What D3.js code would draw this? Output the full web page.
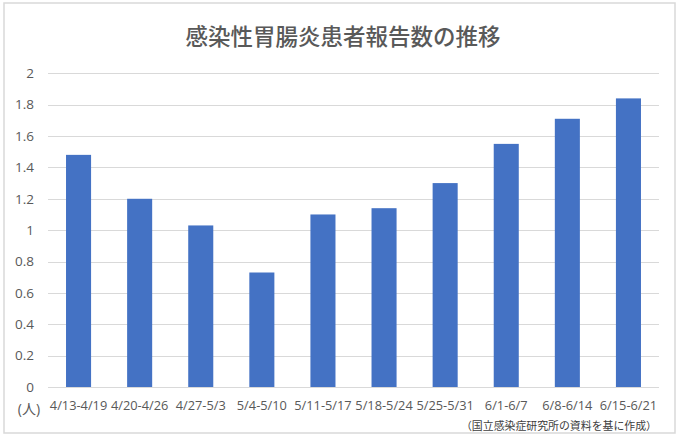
<!DOCTYPE html>
<html><head><meta charset="utf-8">
<script src="https://cdn.jsdelivr.net/npm/d3@7"></script>
<style>html,body{margin:0;padding:0;background:#fff;}svg{display:block;}</style>
</head><body>
<script>
const categories = ["4/13-4/19","4/20-4/26","4/27-5/3","5/4-5/10","5/11-5/17","5/18-5/24","5/25-5/31","6/1-6/7","6/8-6/14","6/15-6/21"];
const values = [1.48,1.20,1.03,0.73,1.10,1.14,1.30,1.55,1.71,1.84];
const yTicks = [0,0.2,0.4,0.6,0.8,1,1.2,1.4,1.6,1.8,2];
const title = "感染性胃腸炎患者報告数の推移";
const unitLabel = "(人)";
const sourceNote = "（国立感染症研究所の資料を基に作成）";

const W = 680, H = 437;
const font = "'Noto Sans CJK JP', 'Noto Sans', sans-serif";
const latin = "'Open Sans', 'Noto Sans CJK JP', sans-serif";
const svg = d3.select("body").append("svg").attr("width", W).attr("height", H);

svg.append("rect").attr("x",4).attr("y",3).attr("width",671).attr("height",430)
  .attr("fill","#fff").attr("stroke","#d9d9d9").attr("stroke-width",1.5);

const x0 = 48, x1 = 659, yTop = 73.3, yBot = 387;
const x = d3.scaleBand().domain(categories).range([x0, x1]).paddingInner(0.59).paddingOuter(0.295);
const y = d3.scaleLinear().domain([0, 2]).range([yBot, yTop]);

// gridlines
svg.append("g").selectAll("line").data(yTicks).join("line")
  .attr("x1", x0).attr("x2", x1)
  .attr("y1", d => Math.round(y(d)) + 0.5).attr("y2", d => Math.round(y(d)) + 0.5)
  .attr("stroke", "#d9d9d9").attr("stroke-width", 1);

// y axis labels
const yAxis = d3.axisLeft(y).tickValues(yTicks).tickSize(0).tickPadding(0).tickFormat(d3.format("~g"));
const yg = svg.append("g").attr("transform", `translate(${34},0)`).call(yAxis);
yg.select(".domain").remove();
yg.selectAll("text").attr("fill", "#595959").style("font-family", latin).style("font-size", "13.5px");

// bars
svg.append("g").selectAll("rect").data(values).join("rect")
  .attr("x", (d, i) => x(categories[i]))
  .attr("width", x.bandwidth())
  .attr("y", d => y(d))
  .attr("height", d => y(0) - y(d))
  .attr("fill", "#4472c4");

// x axis labels
const xAxis = d3.axisBottom(x).tickSize(0).tickPadding(0);
const xg = svg.append("g").attr("transform", `translate(0,${401})`).call(xAxis);
xg.select(".domain").remove();
xg.selectAll("text").attr("fill", "#595959").attr("dy", "0.71em").style("font-family", latin)
  .style("font-size", "12.8px");

svg.append("text").attr("x", 29).attr("y", 414).attr("text-anchor", "middle")
  .attr("fill", "#595959").style("font-family", latin).style("font-size", "14px").text(unitLabel);

svg.append("text").attr("x", W / 2 + 3).attr("y", 45).attr("text-anchor", "middle")
  .attr("fill", "#595959").style("font-family", font).style("font-size", "22.5px").style("font-weight", 500).text(title);

svg.append("text").attr("x", 657).attr("y", 430).attr("text-anchor", "end")
  .attr("fill", "#404040").style("font-family", font).style("font-size", "10.9px").text(sourceNote);
</script>
</body></html>
